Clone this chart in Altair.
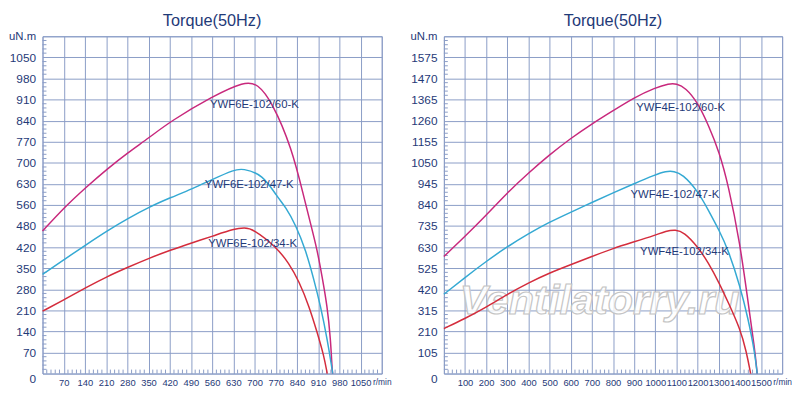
import altair as alt
import pandas as pd

# ---------------- data ----------------
LEFT_MODELS = ["YWF6E-102/60-K", "YWF6E-102/47-K", "YWF6E-102/34-K"]
RIGHT_MODELS = ["YWF4E-102/60-K", "YWF4E-102/47-K", "YWF4E-102/34-K"]
COLORS = ["#c8287c", "#34a9d3", "#d42c3c"]

# left chart (6-pole)
l60_rpm = [0, 73, 144, 213, 282, 352, 421, 562, 667, 710, 758, 823, 863, 885, 907, 923, 940, 951, 956, 958]
l60_nm = [473, 553, 619, 679, 734, 783, 837, 921, 970, 963, 902, 749, 586, 498, 410, 322, 224, 114, 15, 0]
l47_rpm = [0, 73, 144, 213, 282, 352, 422, 493, 561, 633, 660, 727, 775, 803, 836, 869, 896, 918, 940, 956, 958]
l47_nm = [329, 380, 428, 474, 515, 553, 584, 613, 645, 677, 681, 662, 586, 553, 493, 410, 312, 224, 114, 15, 0]
l34_rpm = [0, 73, 144, 213, 282, 352, 422, 493, 561, 633, 667, 694, 771, 814, 847, 880, 907, 929, 940]
l34_nm = [207, 246, 286, 322, 353, 383, 410, 434, 456, 481, 484, 481, 421, 366, 306, 224, 136, 59, 0]

# right chart (4-pole)
r60_rpm = [0, 98, 199, 300, 400, 499, 599, 700, 801, 900, 1000, 1065, 1100, 1143, 1201, 1252, 1302, 1345, 1401, 1439, 1470, 1482]
r60_nm = [583, 681, 787, 901, 999, 1089, 1171, 1244, 1310, 1375, 1424, 1445, 1445, 1424, 1350, 1236, 1106, 942, 648, 354, 126, 0]
r47_rpm = [0, 98, 199, 300, 400, 499, 599, 700, 801, 900, 1000, 1050, 1089, 1128, 1201, 1252, 1302, 1345, 1401, 1439, 1470, 1482]
r47_nm = [395, 477, 558, 632, 697, 754, 803, 852, 900, 946, 990, 1008, 1008, 994, 910, 812, 714, 616, 436, 273, 109, 0]
r34_rpm = [0, 98, 199, 300, 400, 499, 599, 700, 801, 900, 1000, 1050, 1096, 1135, 1201, 1252, 1302, 1345, 1401, 1431, 1451]
r34_nm = [224, 273, 330, 395, 452, 501, 542, 583, 624, 656, 689, 710, 717, 705, 632, 550, 452, 354, 224, 109, 0]

# curve label positions (rpm, torque)
left_label_rpm = [553, 536, 547]
left_label_nm = [892, 625, 429]
right_label_rpm = [910, 883, 928]
right_label_nm = [1321, 890, 607]

# axis tick labels
LEFT_X_LABELS = ["", "70", "140", "210", "280", "350", "420", "490", "560", "630", "700",
                 "770", "840", "910", "980", "1050", "r/min"]
LEFT_Y_LABELS = ["0", "70", "140", "210", "280", "350", "420", "480", "560", "630", "700",
                 "770", "840", "910", "980", "1050", "uN.m"]
RIGHT_X_LABELS = ["", "100", "200", "300", "400", "500", "600", "700", "800", "900", "1000",
                  "1100", "1200", "1300", "1400", "1500", "r/min"]
RIGHT_Y_LABELS = ["0", "105", "210", "315", "420", "525", "630", "735", "840", "945", "1050",
                  "1155", "1260", "1365", "1470", "1575", "uN.m"]

LEFT_STEP_X, LEFT_STEP_Y = 70, 70
RIGHT_STEP_X, RIGHT_STEP_Y = 100, 105

WATERMARK = "Ventilatorry.ru"
wm_rpm, wm_nm = 737, 361

TITLE = "Torque(50Hz)"

# ---------------- style ----------------
NAVY = "#1f3a78"
GRID = "#8a9cc6"
FONT = "Liberation Sans"
W_L, W_R, H = 344, 343, 342


def label_expr(values, labels):
    expr = "''"
    for v, l in reversed(list(zip(values, labels))):
        expr = f"datum.value == {v} ? '{l}' : ({expr})"
    return expr


def make_panel(models, series, lab_rpm, lab_nm, xlabels, ylabels, sx, sy, width, watermark=False):
    xvals = [i * sx for i in range(len(xlabels))]
    yvals = [i * sy for i in range(len(ylabels))]
    xmax, ymax = xvals[-1], yvals[-1]

    xscale = alt.Scale(domain=[0, xmax], nice=False, zero=True)
    yscale = alt.Scale(domain=[0, ymax], nice=False, zero=True)

    xaxis = alt.Axis(
        values=xvals, labelExpr=label_expr(xvals, xlabels), title=None,
        grid=True, gridColor=GRID, gridWidth=1, gridOpacity=1,
        domain=False, ticks=False, tickSize=0, labelPadding=4,
        labelFont=FONT, labelColor=NAVY, labelAngle=0,
        labelFontSize={"condition": {"test": f"datum.value == {xmax}", "value": 8.5}, "value": 9.5},
        labelOverlap=False, labelFlush=False, labelBound=False,
    )
    yaxis = alt.Axis(
        values=yvals, labelExpr=label_expr(yvals, ylabels), title=None,
        grid=True, gridColor=GRID, gridWidth=1, gridOpacity=1,
        domain=False, ticks=False, tickSize=0, labelPadding=7,
        labelFont=FONT, labelColor=NAVY,
        labelFontSize={"condition": {"test": f"datum.value == {ymax}", "value": 11.5}, "value": 12},
        labelBaseline={"condition": {"test": "datum.value == 0", "value": "top"}, "value": "middle"},
        labelOverlap=False, labelFlush=False, labelBound=False,
    )

    rows = []
    for m, (rpm, nm) in zip(models, series):
        for a, b in zip(rpm, nm):
            rows.append({"rpm": a, "nm": b, "model": m})
    cdf = pd.DataFrame(rows)

    color = alt.Color("model:N", scale=alt.Scale(domain=models, range=COLORS), legend=None)

    lines = alt.Chart(cdf).mark_line(interpolate="basis", strokeWidth=1.5).encode(
        x=alt.X("rpm:Q", scale=xscale, axis=xaxis),
        y=alt.Y("nm:Q", scale=yscale, axis=yaxis),
        color=color,
        detail="model:N",
    )

    # minor ticks (5 per grid cell) on left and bottom edges
    ytick_df = pd.DataFrame({"v": [i * sy / 5 for i in range(1, len(ylabels) * 5 - 5) if i % 5]})
    xtick_df = pd.DataFrame({"v": [i * sx / 5 for i in range(1, len(xlabels) * 5 - 5) if i % 5]})
    yticks = alt.Chart(ytick_df).mark_rule(color=GRID, strokeWidth=1).encode(
        y=alt.Y("v:Q", scale=yscale, axis=yaxis),
        x=alt.value(0), x2=alt.value(4),
    )
    xticks = alt.Chart(xtick_df).mark_rule(color=GRID, strokeWidth=1).encode(
        x=alt.X("v:Q", scale=xscale, axis=xaxis),
        y=alt.value(H), y2=alt.value(H - 4),
    )

    ldf = pd.DataFrame({"rpm": lab_rpm, "nm": lab_nm, "label": models})
    labels = alt.Chart(ldf).mark_text(
        align="left", baseline="middle", font=FONT, fontSize=11.5, color=NAVY
    ).encode(
        x=alt.X("rpm:Q", scale=xscale, axis=xaxis),
        y=alt.Y("nm:Q", scale=yscale, axis=yaxis),
        text="label:N",
    )

    layers = [yticks, xticks]
    if watermark:
        wdf = pd.DataFrame({"rpm": [wm_rpm], "nm": [wm_nm], "t": [WATERMARK]})
        wm = alt.Chart(wdf).mark_text(
            align="center", baseline="middle", font=FONT, fontSize=42,
            fontStyle="italic", fontWeight="bold",
            fill="#ffffff", fillOpacity=0.8, stroke="#c4c4c4", strokeWidth=1.2,
        ).encode(
            x=alt.X("rpm:Q", scale=xscale, axis=xaxis),
            y=alt.Y("nm:Q", scale=yscale, axis=yaxis),
            text="t:N",
        )
        layers.append(wm)
    layers += [lines, labels]

    return alt.layer(*layers).properties(
        width=width, height=H,
        title=alt.TitleParams(TITLE, font=FONT, fontSize=16.5, fontWeight="normal",
                              color=NAVY, anchor="middle", offset=1),
    )


left = make_panel(LEFT_MODELS, [(l60_rpm, l60_nm), (l47_rpm, l47_nm), (l34_rpm, l34_nm)],
                  left_label_rpm, left_label_nm, LEFT_X_LABELS, LEFT_Y_LABELS,
                  LEFT_STEP_X, LEFT_STEP_Y, W_L)
right = make_panel(RIGHT_MODELS, [(r60_rpm, r60_nm), (r47_rpm, r47_nm), (r34_rpm, r34_nm)],
                   right_label_rpm, right_label_nm, RIGHT_X_LABELS, RIGHT_Y_LABELS,
                   RIGHT_STEP_X, RIGHT_STEP_Y, W_R, watermark=True)

chart = alt.hconcat(left, right, spacing=18).properties(
    padding={"left": 0, "top": 2, "right": 0, "bottom": 0},
    background="white",
).configure_view(stroke=GRID, strokeWidth=1)

chart.save("out.html", embed_options={"renderer": "svg", "actions": False})
